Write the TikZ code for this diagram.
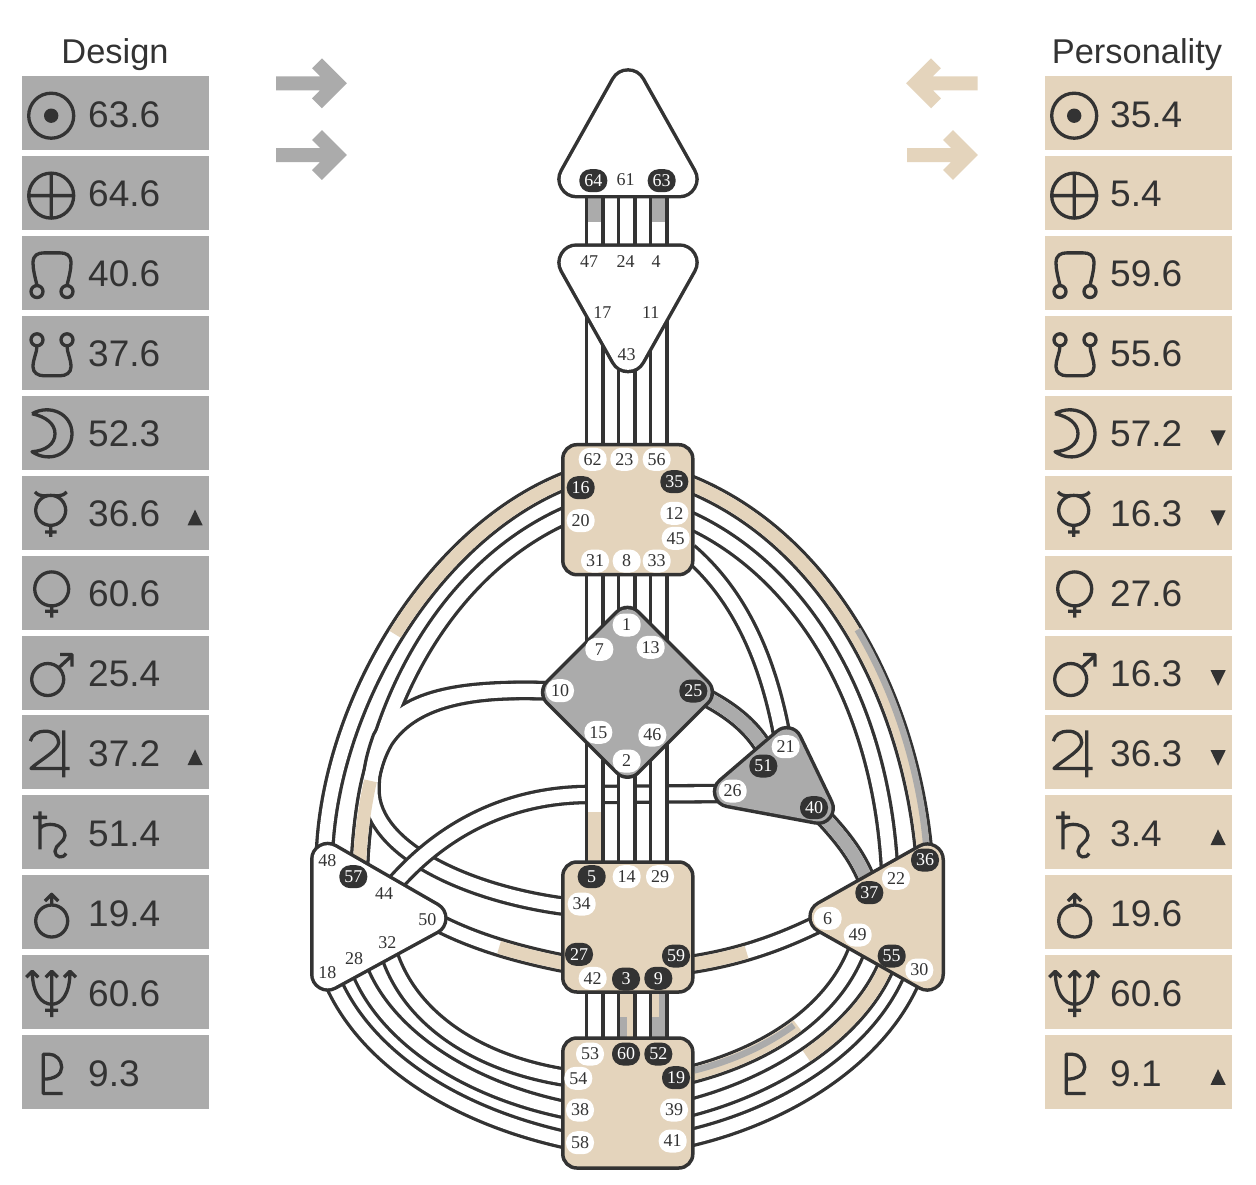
\documentclass[tikz,border=0pt]{standalone}
\usepackage{fontspec}
\setmainfont{Liberation Sans}
\newfontfamily\gateserif{Liberation Serif}
\definecolor{ink}{HTML}{333333}
\definecolor{dsg}{HTML}{ABABAB}
\definecolor{prs}{HTML}{E4D4BC}
\newcommand\gatefont{\gateserif\fontsize{18}{18}\selectfont}
\newcommand\valfont{\fontsize{37}{37}\selectfont}
\newcommand\chanrun[1]{\foreach \p in {#1}{\draw[chandark] \p;}\foreach \p in {#1}{\draw[chanwhite] \p;}}
\newcommand\softcentre[3]{\path[softouter=#2] #3 -- cycle; \path[softinner=#2,draw=#1,fill=#1] #3 -- cycle;}
\tikzset{
  chandark/.style={draw=ink,line width=19.6pt},
  chanwhite/.style={draw=white,line width=13pt},
  tanband/.style={draw=prs,line width=13pt},
  grayband/.style={draw=dsg,line width=13pt},
  tanhalf/.style={draw=prs,line width=6.5pt},
  grayhalf/.style={draw=dsg,line width=6.5pt},
  part/.style={dash pattern=on #1pt off 5000pt},
  softouter/.style={draw=ink,fill=ink,line join=round,line width=2*#1+3.5},
  softinner/.style={line join=round,line width=2*#1-3.5},
  squarecentre/.style={draw=ink,line width=3.5pt,shape=rectangle,fill=prs,minimum width=130pt,minimum height=130pt,inner sep=0pt,rounded corners=14pt},
  gatew/.style={shape=rectangle,fill=white,text=ink,rounded corners=11pt,minimum width=28pt,minimum height=23pt,inner sep=0pt,font=\gatefont},
  gated/.style={gatew,fill=ink,text=white},
  gatep/.style={gatew,fill=none},
  dcell/.style={shape=rectangle,fill=dsg,minimum width=187pt,minimum height=74pt,inner sep=0pt},
  pcell/.style={dcell,fill=prs},
  val/.style={anchor=base west,inner sep=0pt,text=ink,font=\valfont},
  title/.style={text=ink,inner sep=0pt,font=\fontsize{34.4}{34.4}\selectfont},
  sym/.style={draw=ink,line width=3.3pt,fill=none,line join=round},
  arr/.style={line width=14pt,line join=miter},
  pics/sun/.style={code={\draw[sym] (-.8,2.7) circle[radius=22.5]; \fill[ink] (-.8,2.7) circle[radius=7.2];}},
  pics/earth/.style={code={\draw[sym] (-.8,2.7) circle[radius=22.5] (-23.3,2.7) -- (21.7,2.7) (-.8,-19.8) -- (-.8,25.2);}},
  pics/nnode/.style={code={\draw[sym] (-15,18.7) circle[radius=6] (15,18.7) circle[radius=6]
     (-15,12.5) .. controls (-17,4) and (-19,-3) .. (-19,-10) .. controls (-19,-18) and (-14,-20) .. (-8,-20) -- (8,-20) .. controls (14,-20) and (19,-18) .. (19,-10) .. controls (19,-3) and (17,4) .. (15,12.5);}},
  pics/snode/.style={code={\draw[sym] (-15,-13) circle[radius=6] (15,-13) circle[radius=6]
     (-15,-7) .. controls (-15,0) and (-19,6) .. (-19,14) .. controls (-19,20) and (-14,23) .. (-8,23) -- (8,23) .. controls (14,23) and (19,20) .. (19,14) .. controls (19,6) and (15,0) .. (15,-7);}},
  pics/moonsym/.style={code={\draw[sym] (-20,-19) .. controls (-2,-29) and (20,-19) .. (20,1) .. controls (20,21) and (-2,31) .. (-20,19) .. controls (-6,18) and (3,11) .. (3,1) .. controls (3,-9) and (-6,-16) .. (-20,-19);}},
  pics/mercurysym/.style={code={\draw[sym] (-1.3,-2.3) circle[radius=15] (-17,-20.7) .. controls (-12,-15) and (-6,-17.3) .. (-1.3,-17.3) .. controls (3.5,-17.3) and (9.5,-15) .. (14.7,-20.7) (-1.3,12.7) -- (-1.3,24.3) (-7,19.3) -- (4.7,19.3);}},
  pics/venussym/.style={code={\draw[sym] (-.3,-3.7) circle[radius=17] (-.3,13.3) -- (-.3,25) (-7,18.7) -- (6,18.7);}},
  pics/marssym/.style={code={\draw[sym] (-4.3,7) circle[radius=16] (7,-5) -- (20,-17) (8,-18) -- (20,-18) -- (20,-6);}},
  pics/jupitersym/.style={code={\draw[sym] (-21.7,-11.3) .. controls (-20,-18) and (-14,-21.3) .. (-7,-21.3) .. controls (1,-21.3) and (6.7,-17) .. (6.7,-10) .. controls (6.7,-2) and (-14,9) .. (-21,16) -- (17.7,16) (11.7,-22) -- (11.7,25);}},
  pics/saturnsym/.style={code={\draw[sym] (-12,-21) -- (-12,17) (-19,-15) -- (-5,-15) (-12,-4) .. controls (-7,-11) and (13,-9) .. (13,3) .. controls (13,10) and (3,12) .. (3,19) .. controls (3,25) and (11,27) .. (14,21);}},
  pics/uranussym/.style={code={\draw[sym] (-.3,8.7) circle[radius=16] (-.3,-7.3) -- (-.3,-18) (-7,-11.3) -- (-.3,-18) -- (6.3,-11.3);}},
  pics/neptunesym/.style={code={\draw[sym] (-.3,-21) -- (-.3,25) (-7,18) -- (6,18) (-19.7,-21) .. controls (-19.7,2) and (-10,12) .. (-.3,12) .. controls (9.5,12) and (18,2) .. (18,-21) (-25.7,-15) -- (-19.7,-21) -- (-13.7,-15) (-6.3,-15) -- (-.3,-21) -- (5.7,-15) (12,-15) -- (18,-21) -- (24,-15);}},
  pics/plutosym/.style={code={\draw[sym] (10.7,21.3) -- (-8.7,21.3) -- (-8.7,-18) -- (-3,-18) .. controls (4,-18) and (9.7,-12) .. (9.7,-5) .. controls (9.7,2) and (3,7) .. (-8.7,7);}},
}
\begin{document}
\begin{tikzpicture}[x=1pt,y=-1pt]
\useasboundingbox (0,0) rectangle (1256,1184);
\fill[white] (0,0) rectangle (1256,1184);

% ---- tables
\node[title] (designtitle) at (115,55) {Design};
\node[title] (personalitytitle) at (1137,55) {Personality};
\foreach \i/\s/\dv/\pv in {0/sun/63.6/35.4,1/earth/64.6/5.4,2/nnode/40.6/59.6,3/snode/37.6/55.6,4/moonsym/52.3/57.2,5/mercurysym/36.6/16.3,6/venussym/60.6/27.6,7/marssym/25.4/16.3,8/jupitersym/37.2/36.3,9/saturnsym/51.4/3.4,10/uranussym/19.4/19.6,11/neptunesym/60.6/60.6,12/plutosym/9.3/9.1}{
  \pgfmathsetmacro\c{113+79.93*\i}
  \pgfmathsetmacro\b{\c+14}
  \node[dcell] (dc\i) at (115.5,\c) {};
  \node[pcell] (pc\i) at (1138.5,\c) {};
  \pic at (52,\c) {\s};
  \pic at (1075,\c) {\s};
  \node[val] (dv\i) at (88,\b) {\dv};
  \node[val] (pv\i) at (1110,\b) {\pv};
}
\foreach \i in {5,8}{\pgfmathsetmacro\c{113+79.93*\i}
  \fill[ink] (195,\c-3) -- (202.7,\c+12.7) -- (187.5,\c+12.7) -- cycle;}
\foreach \i in {9,12}{\pgfmathsetmacro\c{113+79.93*\i}
  \fill[ink] (1218,\c-3) -- (1225.7,\c+12.7) -- (1210.5,\c+12.7) -- cycle;}
\foreach \i in {4,5,7,8}{\pgfmathsetmacro\c{113+79.93*\i}
  \fill[ink] (1218,\c+13.3) -- (1225.7,\c-2.4) -- (1210.5,\c-2.4) -- cycle;}

% ---- arrows
\draw[arr,draw=dsg] (276,83.3) -- (337,83.3) (317,63.3) -- (337,83.3) -- (317,103.3);
\draw[arr,draw=dsg] (276,155) -- (337,155) (317,135) -- (337,155) -- (317,175);
\draw[arr,draw=prs] (977.7,83.3) -- (916,83.3) (936,63.3) -- (916,83.3) -- (936,103.3);
\draw[arr,draw=prs] (907,155) -- (968,155) (948,135) -- (968,155) -- (948,175);

% ---- channel ports
\foreach \n/\x/\y in {64/594.7/190,47/594.7/250,61/626.7/190,24/626.7/250,63/658.7/190,4/658.7/250,
  17/594.7/300,62/594.7/455,43/626.7/350,23/626.7/455,11/658.7/300,56/658.7/455,
  31/594.7/570,7/594.7/650,8/626.7/570,1/626.7/615,33/658.7/570,13/658.7/650,
  15/594.7/735,5/594.7/870,2/626.7/770,14/626.7/870,46/658.7/735,29/658.7/870,
  42/594.7/985,53/594.7/1045,3/626.7/985,60/626.7/1045,9/658.7/985,52/658.7/1045,
  16/570/479,48/324.6/850,20/569/514,57/359.5/865,10/553/691,34/570/907,
  26/728/793.5,44/392.8/886,50/437/922.3,27/570/964.5,
  18/332.8/981.7,58/570/1140.7,28/359/968.5,38/570/1110.6,32/388.6/952.4,54/570/1078,
  35/687.6/483,36/923.7/853,12/687.7/519.2,22/889.4/867,45/689/551.8,21/782.4/738,
  25/704/696.3,51/764/748,40/822.5/816,37/868/883,
  6/819/923.5,59/687/965,49/857.7/947.5,19/687/1075.5,55/887/964,39/687/1108.5,30/912.6/977.6,41/687/1138.5}
  {\coordinate (p\n) at (\x,\y);}

% ---- channel paths
\def\chOne{(p16) .. controls (435,530) and (332,700) .. (p48)}
\def\chTwo{(p57) .. controls (365,720) and (440,570) .. (p20)}
\def\chThree{(p10) .. controls (480,688) and (415,695) .. (385,740) .. controls (370,765) and (362,810) .. (p57)}
\def\chFour{(p10) .. controls (470,688) and (405,695) .. (381,738) .. controls (375,755) and (371,770) .. (371,790) .. controls (371,850) and (470,895) .. (p34)}
\def\chFive{(p26) -- (587,794.5) .. controls (520,795) and (450,820) .. (p44)}
\def\chSix{(p27) .. controls (520,955) and (475,942) .. (p50)}
\def\chSeven{(p54) .. controls (480,1065) and (410,1020) .. (p32)}
\def\chEight{(p38) .. controls (465,1090) and (385,1035) .. (p28)}
\def\chNine{(p58) .. controls (450,1115) and (365,1055) .. (p18)}
\def\chTen{(p35) .. controls (830,540) and (910,700) .. (p36)}
\def\chEleven{(p12) .. controls (800,570) and (880,700) .. (p22)}
\def\chTwelve{(p45) .. controls (745,600) and (770,670) .. (p21)}
\def\chThirteen{(p25) .. controls (730,710) and (750,725) .. (p51)}
\def\chFourteen{(p40) .. controls (845,840) and (858,858) .. (p37)}
\def\chFifteen{(p59) .. controls (735,958) and (775,945) .. (p6)}
\def\chSixteen{(p19) .. controls (770,1055) and (835,1010) .. (p49)}
\def\chSeventeen{(p55) .. controls (860,1030) and (780,1085) .. (p39)}
\def\chEighteen{(p41) .. controls (790,1115) and (880,1055) .. (p30)}

% left cluster
\chanrun{\chOne,\chTwo,\chThree,\chFour,\chSix,\chSeven,\chEight,\chNine}
\draw[tanband,part=238] \chOne;
\draw[tanband,part=85] \chTwo;
\draw[tanband,part=73] \chSix;
% crossing channel
\chanrun{\chFive}
% right cluster
\chanrun{\chTen,\chEleven,\chTwelve,\chThirteen,\chFourteen,\chFifteen,\chSixteen,\chSeventeen,\chEighteen}
\draw[tanband] \chTen;
\draw[grayhalf] (857.55,629.7) .. controls (896.4,694.7) and (919.7,772.2) .. (926.2,844.7);
\draw[grayband] \chThirteen;
\draw[grayband] \chFourteen;
\draw[tanband,part=61] \chFifteen;
\draw[tanband,part=122] \chSixteen;
\draw[grayhalf] (694.2,1070.35) .. controls (731.7,1061.1) and (765.6,1045.8) .. (793.7,1025.3);
\draw[tanband,part=124] \chSeventeen;

% vertical channels
\foreach \a/\b in {64/47,61/24,63/4,17/62,43/23,11/56,31/7,8/1,33/13,15/5,2/14,46/29,42/53,3/60,9/52}
  {\draw[chandark] (p\a) -- (p\b);}
\foreach \a/\b in {64/47,61/24,63/4,17/62,43/23,11/56,31/7,8/1,33/13,15/5,2/14,46/29,42/53,3/60,9/52}
  {\draw[chanwhite] (p\a) -- (p\b);}
\draw[grayband,part=32] (p64) -- (p47);
\draw[grayband,part=32] (p63) -- (p4);
\draw[tanband,part=58] (p5) -- (p15);
\draw[tanband] (p3) -- (p60);
\draw[grayhalf,dash pattern=on 0pt off 32pt on 100pt] ([xshift=-3.25pt]p3) -- ([xshift=-3.25pt]p60);
\draw[tanhalf,part=32] ([xshift=-3.25pt]p9) -- ([xshift=-3.25pt]p52);
\draw[grayhalf,dash pattern=on 0pt off 32pt on 100pt] ([xshift=-3.25pt]p9) -- ([xshift=-3.25pt]p52);
\draw[grayhalf] ([xshift=3.25pt]p9) -- ([xshift=3.25pt]p52);

% ---- centres
\softcentre{white}{17.6}{(628,87.5) -- (679.4,179.1) -- (576.6,179.1)}
\softcentre{white}{17.6}{(576.6,262.6) -- (679.4,262.6) -- (628,354)}
\node[squarecentre] (throat) at (627.8,509.7) {};
\softcentre{dsg}{15}{(627.5,622.4) -- (697.4,692.3) -- (627.5,762.2) -- (557.6,692.3)}
\softcentre{dsg}{15}{(786.7,742.7) -- (818.2,808.2) -- (729.5,791.7)}
\softcentre{white}{16}{(327.75,859.5) -- (429.9,918.3) -- (327.75,974)}
\softcentre{prs}{16}{(927.25,860) -- (927.25,974) -- (826,917)}
\node[squarecentre] (sacral) at (627.8,927) {};
\node[squarecentre] (root) at (627.8,1103) {};

% ---- gates
\foreach \n/\x/\y in {61/625.7/180,47/589/261.7,24/625.7/261.7,4/656/261.7,17/602.3/312.7,11/650.7/312.7,43/626.7/355,
  48/327.3/861,44/384/894,50/427.3/920,32/387.3/942.3,28/354/958.3,18/327.3/972.3}
  {\node[gatep] (g\n) at (\x,\y) {\n};}
\foreach \n/\x/\y in {62/592.7/459.3,23/624.3/459.3,56/656.7/459.3,20/580.7/520.7,12/674.3/513.3,45/675.7/538.3,31/595/561,8/626.7/561,33/656.7/561,
  1/626.7/625,7/599.3/649.3,13/650.7/647.3,10/560/690.7,15/598.3/732.3,46/652.3/735,2/626.7/761,
  21/785.7/746.7,26/732.7/791,
  14/626.7/876.7,29/660/876.7,34/581.7/904,42/592.7/978.3,
  53/590/1054,54/578.3/1078.3,38/580/1110,58/580/1142.7,39/674/1110,41/672.7/1141,
  22/896/878.3,6/827.7/918.3,49/857.7/935,30/919.3/970}
  {\node[gatew] (g\n) at (\x,\y) {\n};}
\foreach \n/\x/\y in {64/593.3/180.7,63/661.7/180.7,16/580.7/487.7,35/674.3/481.7,25/693.3/691,51/763.3/766,40/814/807.7,
  57/353.3/876.7,5/591.7/876.7,27/579/954.3,3/626/979,9/658.3/978.3,59/676/956,
  60/626/1054,52/658.3/1054,19/676/1077.7,36/925/860,37/869.3/892.7,55/891.7/956}
  {\node[gated] (g\n) at (\x,\y) {\n};}
\end{tikzpicture}
\end{document}
